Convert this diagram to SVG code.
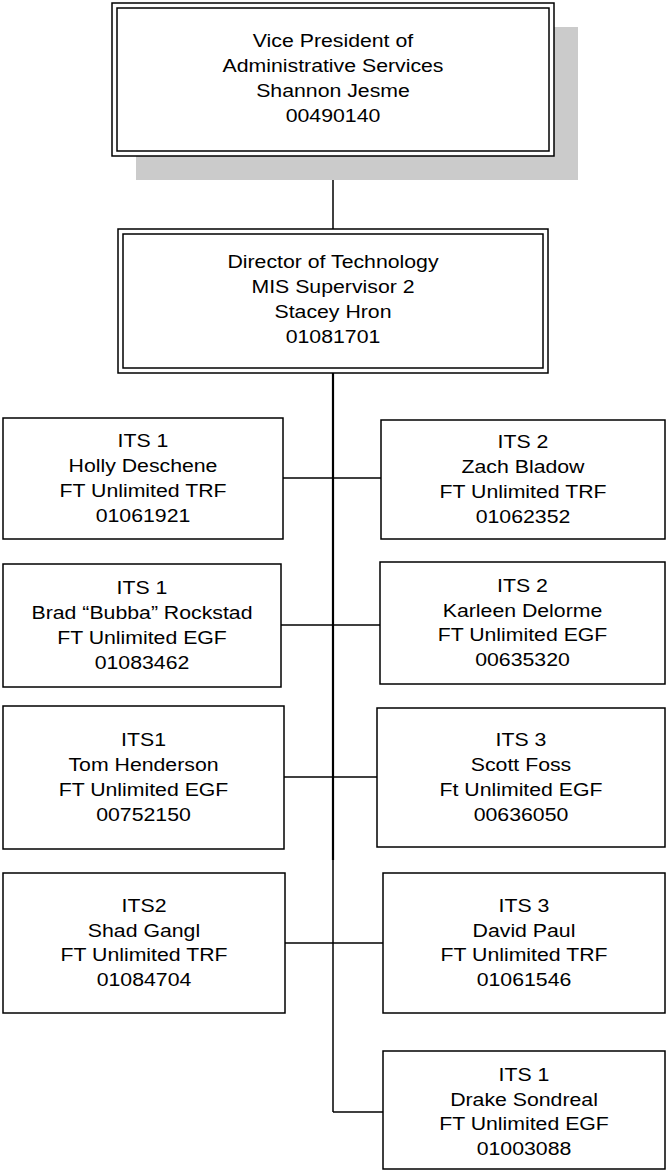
<svg xmlns="http://www.w3.org/2000/svg" width="667" height="1173" viewBox="0 0 667 1173">
<style>
.box{fill:#fff;stroke:#000;stroke-width:1.5}
.inner{fill:none;stroke:#000;stroke-width:1.5}
.shadow{fill:#cbcbcb;stroke:none}
.t{font-family:"Liberation Sans",Arial,sans-serif;font-size:18.5px;fill:#000;text-anchor:middle}
.c{stroke:#000;stroke-width:1.5;fill:none}
.trunk{stroke:#000;stroke-width:2.2;fill:none}
</style>
<rect width="667" height="1173" fill="#fff"/>
<g id="connectors">
<line class="c" x1="333" y1="156" x2="333" y2="229"/>
<line class="trunk" x1="333" y1="373" x2="333" y2="860"/>
<line class="c" x1="333" y1="858" x2="333" y2="1112"/>
<line class="c" x1="283" y1="478" x2="381" y2="478"/>
<line class="c" x1="281" y1="625" x2="380" y2="625"/>
<line class="c" x1="284" y1="777" x2="377" y2="777"/>
<line class="c" x1="285" y1="943" x2="383" y2="943"/>
<line class="c" x1="333" y1="1112" x2="383" y2="1112"/>
</g>
<g id="vp">
<rect class="shadow" x="136" y="27" width="442" height="153"/>
<rect class="box" x="112" y="3" width="442" height="153"/>
<rect class="inner" x="117" y="8" width="432" height="143"/>
<g transform="translate(333 0) scale(1.15 1)">
<text class="t" x="0" y="47">Vice President of</text>
<text class="t" x="0" y="72">Administrative Services</text>
<text class="t" x="0" y="97">Shannon Jesme</text>
<text class="t" x="0" y="122">00490140</text>
</g>
</g>
<g id="director">
<rect class="box" x="118" y="229" width="430" height="144"/>
<rect class="inner" x="123" y="234" width="420" height="134"/>
<g transform="translate(333 0) scale(1.15 1)">
<text class="t" x="0" y="268">Director of Technology</text>
<text class="t" x="0" y="293">MIS Supervisor 2</text>
<text class="t" x="0" y="318">Stacey Hron</text>
<text class="t" x="0" y="343">01081701</text>
</g>
</g>
<g id="holly">
<rect class="box" x="3" y="418" width="280" height="121"/>
<g transform="translate(143 478.5) scale(1.15 1)">
<text class="t" x="0" y="-31.5">ITS 1</text>
<text class="t" x="0" y="-6.5">Holly Deschene</text>
<text class="t" x="0" y="18.5">FT Unlimited TRF</text>
<text class="t" x="0" y="43.5">01061921</text>
</g>
</g>
<g id="zach">
<rect class="box" x="381" y="420" width="284" height="119"/>
<g transform="translate(523 479.5) scale(1.15 1)">
<text class="t" x="0" y="-31.5">ITS 2</text>
<text class="t" x="0" y="-6.5">Zach Bladow</text>
<text class="t" x="0" y="18.5">FT Unlimited TRF</text>
<text class="t" x="0" y="43.5">01062352</text>
</g>
</g>
<g id="brad">
<rect class="box" x="3" y="564" width="278" height="123"/>
<g transform="translate(142 625.5) scale(1.15 1)">
<text class="t" x="0" y="-31.5">ITS 1</text>
<text class="t" x="0" y="-6.5">Brad “Bubba” Rockstad</text>
<text class="t" x="0" y="18.5">FT Unlimited EGF</text>
<text class="t" x="0" y="43.5">01083462</text>
</g>
</g>
<g id="karleen">
<rect class="box" x="380" y="562" width="285" height="122"/>
<g transform="translate(522.5 623) scale(1.15 1)">
<text class="t" x="0" y="-31.5">ITS 2</text>
<text class="t" x="0" y="-6.5">Karleen Delorme</text>
<text class="t" x="0" y="18.5">FT Unlimited EGF</text>
<text class="t" x="0" y="43.5">00635320</text>
</g>
</g>
<g id="tom">
<rect class="box" x="3" y="706" width="281" height="143"/>
<g transform="translate(143.5 777.5) scale(1.15 1)">
<text class="t" x="0" y="-31.5">ITS1</text>
<text class="t" x="0" y="-6.5">Tom Henderson</text>
<text class="t" x="0" y="18.5">FT Unlimited EGF</text>
<text class="t" x="0" y="43.5">00752150</text>
</g>
</g>
<g id="scott">
<rect class="box" x="377" y="708" width="288" height="139"/>
<g transform="translate(521 777.5) scale(1.15 1)">
<text class="t" x="0" y="-31.5">ITS 3</text>
<text class="t" x="0" y="-6.5">Scott Foss</text>
<text class="t" x="0" y="18.5">Ft Unlimited EGF</text>
<text class="t" x="0" y="43.5">00636050</text>
</g>
</g>
<g id="shad">
<rect class="box" x="3" y="873" width="282" height="140"/>
<g transform="translate(144 943) scale(1.15 1)">
<text class="t" x="0" y="-31.5">ITS2</text>
<text class="t" x="0" y="-6.5">Shad Gangl</text>
<text class="t" x="0" y="18.5">FT Unlimited TRF</text>
<text class="t" x="0" y="43.5">01084704</text>
</g>
</g>
<g id="david">
<rect class="box" x="383" y="873" width="282" height="140"/>
<g transform="translate(524 943) scale(1.15 1)">
<text class="t" x="0" y="-31.5">ITS 3</text>
<text class="t" x="0" y="-6.5">David Paul</text>
<text class="t" x="0" y="18.5">FT Unlimited TRF</text>
<text class="t" x="0" y="43.5">01061546</text>
</g>
</g>
<g id="drake">
<rect class="box" x="383" y="1051" width="282" height="118"/>
<g transform="translate(524 1112) scale(1.15 1)">
<text class="t" x="0" y="-31.5">ITS 1</text>
<text class="t" x="0" y="-6.5">Drake Sondreal</text>
<text class="t" x="0" y="18.5">FT Unlimited EGF</text>
<text class="t" x="0" y="43.5">01003088</text>
</g>
</g>
</svg>
